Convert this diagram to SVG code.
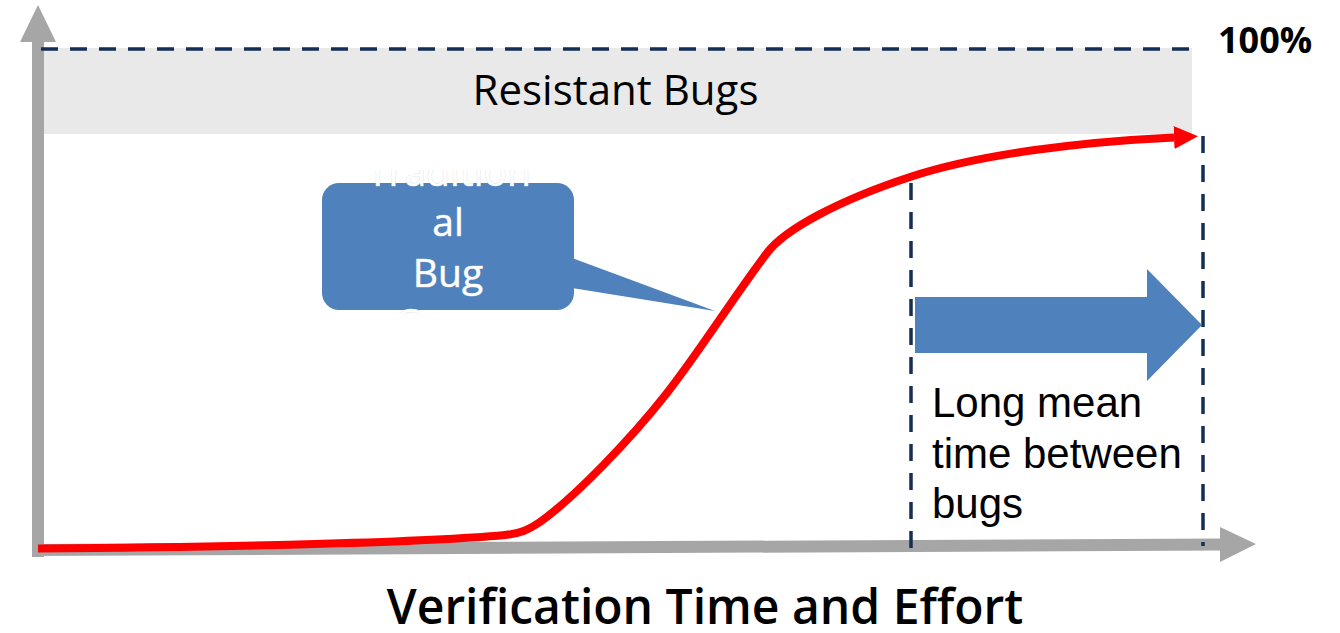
<svg xmlns="http://www.w3.org/2000/svg" width="1340" height="633" viewBox="0 0 1340 633">
  <defs>
    <style>
      .axis { stroke: #a6a6a6; stroke-width: 12; fill: none; }
      .axishead { fill: #a6a6a6; }
      .dash { stroke: #142e55; stroke-width: 3.5; stroke-dasharray: 17 12; fill: none; }
      .blue { fill: #4f81bd; }
      .os { font-family: "Open Sans", "Noto Sans", sans-serif; }
      .callout-text { font-family: "Open Sans", "Noto Sans", sans-serif; font-size: 39px; fill: #ffffff; text-anchor: middle; stroke: #d3dbe6; stroke-width: 0.7; paint-order: stroke; }
      .note { font-family: "Liberation Sans", Arial, sans-serif; font-size: 42px; fill: #000000; }
    </style>
    <marker id="redhead" markerUnits="userSpaceOnUse" viewBox="0 0 24 24" refX="0" refY="12" markerWidth="24" markerHeight="24" orient="auto">
      <path d="M0,0.5 L24,12 L0,23.5 Z" fill="#ff0000"/>
    </marker>
    <clipPath id="callout-clip">
      <rect x="300" y="170" width="300" height="144"/>
    </clipPath>
  </defs>

  <rect width="1340" height="633" fill="#ffffff"/>

  <!-- Resistant bugs band -->
  <g id="resistant-bugs">
    <rect x="44" y="48" width="1148" height="86" fill="#e9e9e9"/>
    <text class="os" x="615.5" y="105" font-size="42" text-anchor="middle" fill="#000000">Resistant Bugs</text>
  </g>

  <!-- Axes -->
  <g id="axes">
    <line class="axis" x1="38" y1="557" x2="38" y2="40"/>
    <polygon class="axishead" points="38,5 56,42 20,42"/>
    <line class="axis" x1="32" y1="550" x2="1222" y2="544.5"/>
    <polygon class="axishead" points="1256,544 1220,527 1220,562"/>
  </g>

  <!-- Connectors / guide lines -->
  <g id="connectors">
    <line class="dash" x1="41" y1="49" x2="1193" y2="49"/>
    <line class="dash" x1="911" y1="183" x2="911" y2="550"/>
    <line class="dash" x1="1203" y1="136" x2="1203" y2="546"/>
    <path id="bug-curve" d="M38,548.5 C250,547 430,542 505,535 C520,533.6 528,530 540,522 C575,497 630,440 667,393 C700,351 735,295 767,253 C785,229 840,200 910,177 C980,154 1080,142 1174,137.5" fill="none" stroke="#ff0000" stroke-width="8" marker-end="url(#redhead)"/>
  </g>

  <!-- Callout -->
  <g id="callout">
    <rect class="blue" x="322" y="183" width="252" height="127" rx="17" ry="17"/>
    <polygon class="blue" points="572,258 715,311 572,288"/>
    <g clip-path="url(#callout-clip)">
      <text class="callout-text" x="449" y="186">Tradition</text>
      <text class="callout-text" x="448" y="236">al</text>
      <text class="callout-text" x="448" y="287">Bug</text>
      <text class="callout-text" x="448" y="337">Curve</text>
    </g>
  </g>

  <!-- Big blue arrow -->
  <g id="mtbb-arrow">
    <polygon class="blue" points="915,297 1147,297 1147,269 1202,325 1147,381 1147,353 915,353"/>
  </g>

  <g id="mtbb-label">
    <text class="note" x="932" y="417">Long mean</text>
    <text class="note" x="932" y="468">time between</text>
    <text class="note" x="932" y="518">bugs</text>
  </g>

  <g id="label-100">
    <text class="os" x="1218" y="53" font-size="36" font-weight="bold" fill="#000000">100%</text>
  </g>

  <g id="x-title">
    <text class="os" x="705" y="624" font-size="48" font-weight="600" text-anchor="middle" fill="#000000">Verification Time and Effort</text>
  </g>
</svg>
